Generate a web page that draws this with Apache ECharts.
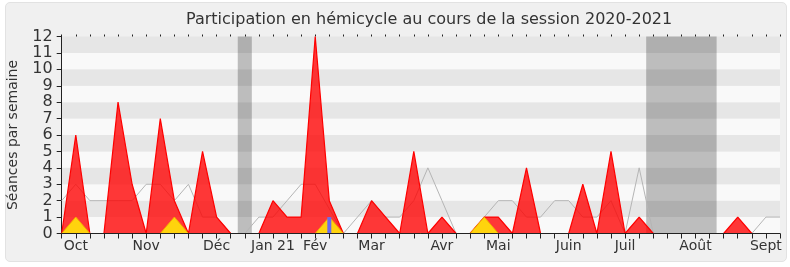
<!DOCTYPE html>
<html>
<head>
<meta charset="utf-8">
<script src="https://cdn.jsdelivr.net/npm/echarts@6/dist/echarts.min.js"></script>
<style>
  html, body { margin: 0; padding: 0; background: #ffffff; }
  #frame { position: absolute; left: 5px; top: 2px; width: 780px; height: 258px; background: #f0f0f0; border: 1px solid #e2e2e2; border-radius: 5px; }
  #chart { position: absolute; left: 0; top: 0; width: 790px; height: 267px; }
</style>
</head>
<body>
<div id="frame"></div>
<div id="chart"></div>
<script>
// 52 weeks of the 2020-2021 session
const weeks = ['S01','S02','S03','S04','S05','S06','S07','S08','S09','S10','S11','S12','S13','S14','S15','S16','S17','S18','S19','S20','S21','S22','S23','S24','S25','S26','S27','S28','S29','S30','S31','S32','S33','S34','S35','S36','S37','S38','S39','S40','S41','S42','S43','S44','S45','S46','S47','S48','S49','S50','S51','S52'];
const monthNames = ['Oct', 'Nov', 'Déc', 'Jan 21', 'Fév', 'Mar', 'Avr', 'Mai', 'Juin', 'Juil', 'Août', 'Sept'];
const monthWeekIndex = [1, 6, 11, 15, 18, 22, 27, 31, 36, 40, 45, 50];
const yTicks = [0, 1, 2, 3, 4, 5, 6, 7, 8, 9, 10, 11, 12];

// Séances en hémicycle (red)
const seances = [0,6,0,0,8,3,0,7,2,0,5,1,0,0,0,2,1,1,12,2,0,0,2,1,0,5,0,1,0,0,1,1,0,4,0,0,0,3,0,5,0,1,0,0,0,0,0,0,1,0,0,0];
// Interventions (yellow)
const interventions = [0,1,0,0,0,0,0,0,1,0,0,0,0,0,0,0,0,0,0,1,0,0,0,0,0,0,0,0,0,0,1,0,0,0,0,0,0,0,0,0,0,0,0,0,0,0,0,0,0,0,0,0];
// Questions (blue)
const questions = [0,0,0,0,0,0,0,0,0,0,0,0,0,0,0,0,0,0,0,1,0,0,0,0,0,0,0,0,0,0,0,0,0,0,0,0,0,0,0,0,0,0,0,0,0,0,0,0,0,0,0,0];
// Médiane des députés (grey line)
const mediane = [2,3,2,2,2,2,3,3,2,3,1,1,0,0,1,1,2,3,3,1.5,0,1,2,1,1,2,4,2,0,0,1,2,2,1,1,2,2,1,1,2,0,4,0,0,0,0,0,0,0,0,1,1];
// Vacances parlementaires (in week units)
const vacances = [[12.5, 13.5], [41.5, 46.5]];

const labelAt = {};
monthWeekIndex.forEach((w, i) => { labelAt[w] = monthNames[i]; });

const FONT = 'DejaVu Sans';
const chart = echarts.init(document.getElementById('chart'), null, { renderer: 'canvas' });
chart.setOption({
  animation: false,
  backgroundColor: 'transparent',
  title: {
    text: 'Participation en hémicycle au cours de la session 2020-2021',
    left: 181, top: 7,
    textStyle: { fontFamily: FONT, fontSize: 16, fontWeight: 'normal', color: '#333333' }
  },
  grid: { left: 61.7, right: 10, top: 36.5, bottom: 33.5, outerBoundsMode: 'none', containLabel: false },
  xAxis: [
    {
      type: 'category', data: weeks, boundaryGap: false, position: 'bottom', z: 10,
      axisLine: { show: true, lineStyle: { color: '#222222', width: 1 } },
      axisTick: { show: true, interval: 0, length: 5, lineStyle: { color: '#222222' } },
      axisLabel: { interval: 0, formatter: (v, i) => labelAt[i] || '', fontFamily: FONT, fontSize: 14, color: '#333333', margin: 6 },
      splitLine: { show: false }
    },
    {
      type: 'category', data: weeks, boundaryGap: false, position: 'top',
      axisLine: { show: false },
      axisTick: { show: true, interval: 0, length: 2, lineStyle: { color: '#222222' } },
      axisLabel: { show: false }, splitLine: { show: false }
    },
    { type: 'value', min: 0, max: weeks.length - 1, show: false }
  ],
  yAxis: {
    type: 'value', min: yTicks[0], max: yTicks[yTicks.length - 1], interval: 1,
    name: 'Séances par semaine', nameLocation: 'middle', nameGap: 41,
    nameTextStyle: { fontFamily: FONT, fontSize: 14, color: '#333333' },
    axisLine: { show: true, lineStyle: { color: '#222222' } },
    axisTick: { show: true, length: 5, lineStyle: { color: '#222222' } },
    axisLabel: { fontFamily: FONT, fontSize: 16, color: '#333333', margin: 9 },
    splitLine: { show: false },
    splitArea: { show: true, areaStyle: { color: ['#f9f9f9', '#e6e6e6'] } }
  },
  series: [
    {
      type: 'line', xAxisIndex: 2, data: [], z: 1, silent: true,
      markArea: {
        silent: true,
        itemStyle: { color: 'rgba(0,0,0,0.24)' },
        data: vacances.map(v => [{ xAxis: v[0] }, { xAxis: v[1] }])
      }
    },
    {
      type: 'line', data: mediane, symbol: 'none', z: 2,
      lineStyle: { color: '#b5b5b5', width: 1 }
    },
    {
      type: 'line', data: seances, symbol: 'none', z: 3,
      lineStyle: { color: '#ff0000', width: 1.2 },
      areaStyle: { color: 'rgba(255,0,0,0.78)', opacity: 1 }
    },
    {
      type: 'line', data: interventions, symbol: 'none', z: 4,
      lineStyle: { color: '#f2b000', width: 1 },
      areaStyle: { color: '#ffd30d', opacity: 1 }
    },
    {
      type: 'bar', data: questions, barWidth: 4, z: 5,
      itemStyle: { color: '#6b6bee' }
    }
  ]
});
</script>
</body>
</html>
